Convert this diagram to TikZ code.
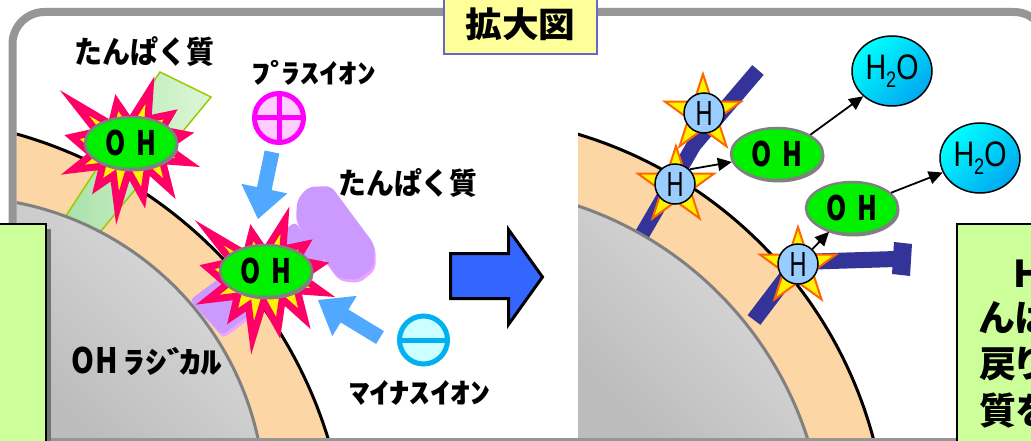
\documentclass[tikz,border=0pt]{standalone}
\usepackage{fontspec}
\setmainfont{Noto Sans CJK JP}
\newfontfamily\latinfont{Liberation Sans}
\newfontfamily\propfont{Noto Sans CJK JP}[RawFeature=+palt]
\usetikzlibrary{shapes.geometric,arrows.meta,shadows}

\definecolor{framegray}{RGB}{150,150,150}
\definecolor{membrane}{RGB}{252,214,164}
\definecolor{cellhi}{RGB}{224,224,224}
\definecolor{celllo}{RGB}{188,188,188}
\definecolor{cellline}{RGB}{128,128,128}
\definecolor{boxgreen}{RGB}{204,255,153}
\definecolor{titlefill}{RGB}{255,255,153}
\definecolor{titleedge}{RGB}{102,102,204}
\definecolor{burstred}{RGB}{255,0,102}
\definecolor{ohgreen}{RGB}{0,240,0}
\definecolor{ionplus}{RGB}{255,0,255}
\definecolor{ionplusfill}{RGB}{255,204,255}
\definecolor{ionminus}{RGB}{0,176,240}
\definecolor{ionminusfill}{RGB}{204,255,255}
\definecolor{flowblue}{RGB}{80,168,255}
\definecolor{bigblue}{RGB}{51,102,255}
\definecolor{protpurple}{RGB}{204,153,255}
\definecolor{protpink}{RGB}{236,164,255}
\definecolor{protgreenA}{RGB}{168,224,168}
\definecolor{protgreenB}{RGB}{220,247,214}
\definecolor{protedge}{RGB}{153,204,0}
\definecolor{barblue}{RGB}{51,51,153}
\definecolor{hfill}{RGB}{153,204,255}
\definecolor{starorange}{RGB}{255,102,0}
\definecolor{watertop}{RGB}{0,255,255}
\definecolor{waterbot}{RGB}{0,168,240}

% explosion outline (unit square, y downward)
\newcommand{\drawburst}[2]{%
  \begin{scope}[shift={(#1,#2)},xscale=116,yscale=118]
    \filldraw[burst] (0.5,0.2685) -- (0.6724,0) -- (0.6553,0.2465) -- (0.8509,0.2063)
      -- (0.7732,0.3386) -- (0.9767,0.3767) -- (0.8151,0.4850) -- (1,0.6153)
      -- (0.7795,0.5992) -- (0.8400,0.8377) -- (0.6491,0.6693) -- (0.6133,0.9137)
      -- (0.4876,0.6914) -- (0.3928,1) -- (0.3572,0.7235) -- (0.2205,0.8156)
      -- (0.2623,0.6452) -- (0.0063,0.6753) -- (0.1723,0.5451) -- (0,0.3988)
      -- (0.2142,0.3526) -- (0.0171,0.1063) -- (0.3385,0.2926) -- (0.3867,0.1063) -- cycle;
  \end{scope}}
\newcommand{\ohtext}{\resizebox*{51pt}{26pt}{\bfseries O\hspace{0.42em}H}}
\newcommand{\htext}{\resizebox*{17pt}{24pt}{\latinfont H}}
\newcommand{\watertext}{\resizebox*{53pt}{33pt}{\latinfont\fontsize{30}{30}\selectfont H\raisebox{-7pt}{\fontsize{19}{19}\selectfont 2}O}}

\begin{document}
\begin{tikzpicture}[x=1pt,y=-1pt,
  burst/.style={fill=yellow,draw=burstred,line width=7pt,line join=miter,miter limit=12},
  ohnode/.style={ellipse,fill=ohgreen,draw=black!50,line width=2.5pt,minimum width=92pt,
    minimum height=52pt,inner sep=0pt,
    drop shadow={shadow xshift=1.5pt,shadow yshift=-2.5pt,fill=black!50,opacity=1}},
  hstar/.style={star,star points=5,star point ratio=2.618,minimum size=80pt,inner sep=0pt,
    fill=yellow,draw=starorange,line width=2pt},
  hball/.style={circle,fill=hfill,draw=black,line width=1.5pt,minimum size=40pt,inner sep=0pt},
  water/.style={ellipse,draw=black,line width=1.5pt,minimum width=80pt,minimum height=70pt,
    inner sep=0pt,top color=watertop,bottom color=waterbot,shading angle=45},
  link/.style={draw=black,line width=1.8pt,-{Triangle[length=14pt,width=13pt]}},
  bar/.style={draw=barblue,line join=miter},
  label/.style={inner sep=0pt},
  rtext/.style={inner sep=0pt,font=\propfont\bfseries\fontsize{37}{37}\selectfont}]

\useasboundingbox (0,0) rectangle (1031,441);
\fill[white] (0,0) rectangle (1031,441);

% ---------- left panel: cell with membrane ----------
\begin{scope}
  \clip (16.5,16) rectangle (578,438);
  \fill[membrane] (-107,572) circle[radius=455];
  \draw[line width=3pt] (-107,572) circle[radius=455];
  % membrane protein (green)
  \shadedraw[left color=protgreenA,right color=protgreenB,draw=protedge,line width=1.5pt]
    (160,72) -- (211,97) -- (92,242) -- (58,228) -- cycle;
  % membrane protein (purple) with its light edge
  \begin{scope}[shift={(1.5,3)}]
    \fill[protpink,rounded corners=4pt] (190,300) -- (295,222) -- (325,260) -- (222,335) -- cycle;
    \fill[protpink,rounded corners=6pt] (297,200) -- (308,187) -- (331,186) -- (374,244)
      -- (374,267) -- (358,280) -- (338,278) -- (296,222) -- cycle;
  \end{scope}
  \fill[protpurple,rounded corners=4pt] (190,300) -- (295,222) -- (325,260) -- (222,335) -- cycle;
  \fill[protpurple,rounded corners=6pt] (297,200) -- (308,187) -- (331,186) -- (374,244)
    -- (374,267) -- (358,280) -- (338,278) -- (296,222) -- cycle;
  % cytoplasm
  \begin{scope}
    \clip (-42,504) circle[radius=307];
    \shade[top color=cellhi,bottom color=celllo,shading angle=-45] (16,190) rectangle (272,440);
  \end{scope}
  \draw[cellline,line width=3pt] (-42,504) circle[radius=307];
\end{scope}

% ---------- right panel: cell with membrane ----------
\begin{scope}
  \clip (578,16) rectangle (1042,438);
  \fill[membrane] (453,551) circle[radius=435];
  \draw[line width=3pt] (453,551) circle[radius=435];
  \draw[bar,line width=15pt] (758,70) -- (694,145) -- (640,238);
  \draw[bar,line width=16pt] (754,320) -- (798,262) -- (896,259);
  \fill[barblue] (894,242) -- (912,244) -- (910,276) -- (892,274) -- cycle;
  \begin{scope}
    \clip (462,550) circle[radius=363];
    \shade[top color=cellhi,bottom color=celllo,shading angle=-45] (578,190) rectangle (830,440);
  \end{scope}
  \draw[cellline,line width=3pt] (462,550) circle[radius=363];
\end{scope}

% ---------- outer frame ----------
\draw[framegray,line width=8pt,rounded corners=32pt] (12.5,12) rectangle (1046,442);

% side boxes
\fill[black!55] (0,229) rectangle (51,446);
\draw[fill=boxgreen,line width=1.5pt] (-5,224) rectangle (46,446);
\draw[fill=boxgreen,line width=1.5pt] (957,224) rectangle (1050,446);
\begin{scope}
  \clip (957,224) rectangle (1031,441);
  \node[rtext,anchor=base west] (t1) at (1013,287) {H};
  \node[rtext,anchor=base west] (t2) at (979,331) {んは};
  \node[rtext,anchor=base west] (t3) at (979,377) {戻り};
  \node[rtext,anchor=base west] (t4) at (979,424) {質を};
\end{scope}

% title
\node[draw=titleedge,fill=titlefill,line width=1.5pt,minimum width=153pt,minimum height=60pt,
  inner sep=0pt] (title) at (520.5,24) {\raisebox{-2pt}{\resizebox*{110pt}{33pt}{\bfseries 拡大図}}};

% ---------- left panel: radicals, ions ----------
\drawburst{72}{90}
\drawburst{207}{220}
\node[ohnode] (oh1) at (131,143) {\ohtext};
\node[ohnode] (oh2) at (266,271) {\ohtext};

\node[circle,draw=ionplus,fill=ionplusfill,line width=5pt,minimum size=49pt,inner sep=0pt]
  (plus) at (279,118) {};
\draw[ionplus,line width=5pt] (plus.north) -- (plus.south) (plus.west) -- (plus.east);
\node[circle,draw=ionminus,fill=ionminusfill,line width=5pt,minimum size=48pt,inner sep=0pt]
  (minus) at (423.5,340) {};
\draw[ionminus,line width=5pt] (minus.west) -- (minus.east);

% ion movement arrows
\fill[flowblue] (279.3,153.5) -- (271.6,190.1) -- (287.3,193.4) -- (258,219)
  -- (241.3,183.8) -- (257.0,187.1) -- (264.7,150.5) -- cycle;
\fill[flowblue] (383.9,331.1) -- (348.4,309.6) -- (356.7,295.9) -- (318,300)
  -- (332.3,336.1) -- (340.6,322.4) -- (376.1,343.9) -- cycle;

% labels
\node[label] (lprot1) at (144,52) {\resizebox*{140pt}{30pt}{\bfseries たんぱく質}};
\node[label] (lplus) at (314,72.5) {\resizebox*{124pt}{25pt}{\bfseries ﾌﾟ\kern-0.22emﾗｽｲｵﾝ}};
\node[label] (lprot2) at (408,182.5) {\resizebox*{139pt}{29pt}{\bfseries たんぱく質}};
\node[label] (lminus) at (420,392.5) {\resizebox*{142pt}{25pt}{\bfseries ﾏｲﾅｽｲｵﾝ}};
\node[label] (lrad) at (147,361) {\resizebox*{47pt}{27pt}{\bfseries O\kern0.05emH}\hspace{5pt}\resizebox*{99pt}{28pt}{\bfseries ﾗｼﾞ\kern-0.22emｶﾙ}};

% big transition arrow
\filldraw[fill=bigblue,draw=black,line width=3pt,line join=miter]
  (450.5,253.5) -- (508.5,253.5) -- (508.5,229.5) -- (542.5,277) -- (508.5,324.5)
  -- (508.5,298.5) -- (450.5,298.5) -- cycle;

% ---------- right panel: hydrogen abstraction ----------
\node[hstar] (S1) at (703,114) {};
\node[hball] (H1) at (704,113) {\htext};
\node[hstar] (S2) at (676,186) {};
\node[hball] (H2) at (675,184) {\htext};
\node[hstar] (S3) at (798,267) {};
\node[hball] (H3) at (798,264) {\htext};

\node[ohnode] (OHa) at (777,154) {\ohtext};
\node[ohnode] (OHb) at (852,208) {\ohtext};
\node[water] (W1) at (892,71) {\watertext};
\node[water] (W2) at (980,158) {\watertext};

\draw[link] (H2.45) -- (OHa.190);
\draw[link] (OHa.north east) -- (W1.south west);
\draw[link] (OHb) -- (W2);
\draw[link] (H3) -- (OHb);
\end{tikzpicture}
\end{document}
